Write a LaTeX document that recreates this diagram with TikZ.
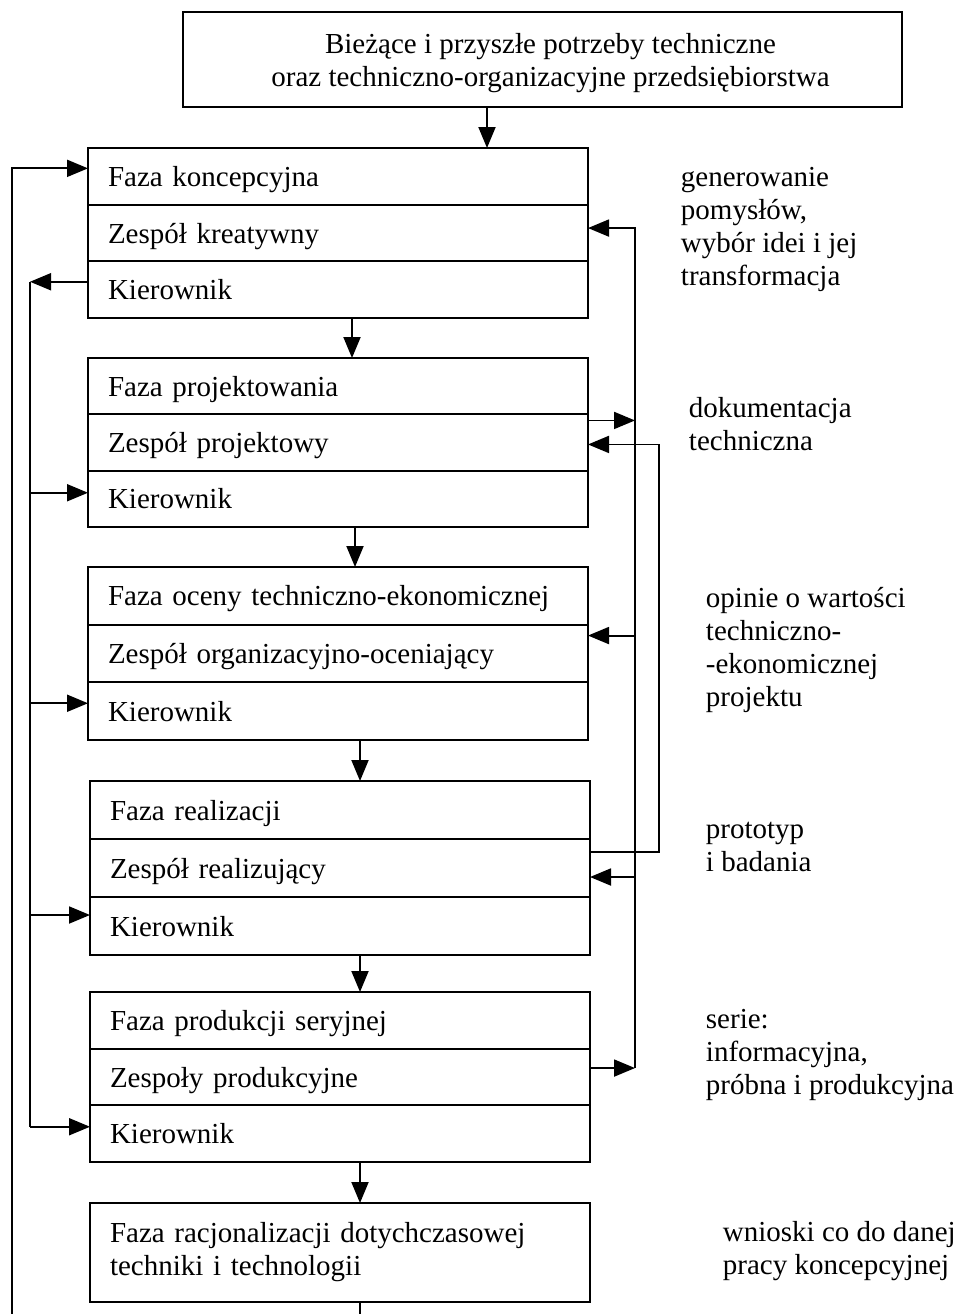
\documentclass[tikz,border=0pt]{standalone}
\usepackage{fontspec}
\setmainfont{Liberation Serif}
\usetikzlibrary{arrows.meta,calc}
\begin{document}
\begin{tikzpicture}[x=1pt,y=-1pt,line width=1.9pt,
  txt/.style={font=\fontsize{29}{33}\selectfont},
  box/.style={draw,anchor=north west,outer sep=0pt,text width=460pt,inner xsep=20pt,inner ysep=0pt,align=left,txt},
  row/.style={box,execute at begin node={\rule[-10pt]{0pt}{40pt}}},
  lbl/.style={anchor=west,inner sep=0pt,align=left,txt},
  arr/.style={-{Triangle[length=21pt,width=17pt]}}]
\useasboundingbox (0,0) rectangle (965,1314);
\clip (0,0) rectangle (965,1314);
\fill[white] (0,0) rectangle (965,1314);
% top box
\node[draw,outer sep=0pt,anchor=north west,minimum width=719pt,minimum height=95pt,align=center,txt] (top) at (183,12)
  {\rule[-8pt]{0pt}{36pt}\hspace*{16pt}Bieżące i przyszłe potrzeby techniczne\\\hspace*{16pt}oraz techniczno-organizacyjne przedsiębiorstwa};
% phase 1
\node[row,minimum height=56.7pt] (f1) at (88,148) {Faza koncepcyjna};
\node[row,minimum height=56.7pt] (z1) at (f1.south west) {Zespół kreatywny};
\node[row,minimum height=56.7pt] (k1) at (z1.south west) {Kierownik};
% phase 2
\node[row,minimum height=56.3pt] (f2) at (88,358) {Faza projektowania};
\node[row,minimum height=56.3pt] (z2) at (f2.south west) {Zespół projektowy};
\node[row,minimum height=56.3pt] (k2) at (z2.south west) {Kierownik};
% phase 3
\node[row,minimum height=57.7pt] (f3) at (88,567) {Faza oceny techniczno-ekonomicznej};
\node[row,minimum height=57.7pt] (z3) at (f3.south west) {Zespół organizacyjno-oceniający};
\node[row,minimum height=57.7pt] (k3) at (z3.south west) {Kierownik};
% phase 4
\node[row,minimum height=58pt] (f4) at (90,781) {Faza realizacji};
\node[row,minimum height=58pt] (z4) at (f4.south west) {Zespół realizujący};
\node[row,minimum height=58pt] (k4) at (z4.south west) {Kierownik};
% phase 5
\node[row,minimum height=56.7pt] (f5) at (90,992) {Faza produkcji seryjnej};
\node[row,minimum height=56.7pt] (z5) at (f5.south west) {Zespoły produkcyjne};
\node[row,minimum height=56.7pt] (k5) at (z5.south west) {Kierownik};
% phase 6
\node[box,minimum height=99pt] (f6) at (90,1203) {Faza racjonalizacji dotychczasowej\\techniki i technologii};
% right labels
\node[lbl] (l1) at (680,229) {generowanie\\pomysłów,\\wybór idei i jej\\transformacja};
\node[lbl] (l2) at (688,424) {dokumentacja\\techniczna};
\node[lbl] (l3) at (705,650) {opinie o wartości\\techniczno-\\-ekonomicznej\\projektu};
\node[lbl] (l4) at (705,847) {prototyp\\i badania};
\node[lbl] (l5) at (705,1055) {serie:\\informacyjna,\\próbna i produkcyjna};
\node[lbl] (l6) at (722,1251) {wnioski co do danej\\pracy koncepcyjnej};
% vertical flow arrows
\coordinate (a0) at (487,0);
\coordinate (a1) at (352,0);
\coordinate (a2) at (355,0);
\coordinate (a3) at (360,0);
\coordinate (bot) at (0,1340);
\draw[arr] (a0 |- top.south) -- (a0 |- f1.north);
\draw[arr] (a1 |- k1.south) -- (a1 |- f2.north);
\draw[arr] (a2 |- k2.south) -- (a2 |- f3.north);
\draw[arr] (a3 |- k3.south) -- (a3 |- f4.north);
\draw[arr] (a3 |- k4.south) -- (a3 |- f5.north);
\draw[arr] (a3 |- k5.south) -- (a3 |- f6.north);
% left side: feedback loop and manager line
\coordinate (L) at (12,0);
\coordinate (M) at (30,0);
\coordinate (f1in) at ([yshift=8pt]f1.west);
\draw[arr] (a3 |- f6.south) -- (a3 |- bot) -- (L |- bot) -- (L |- f1in) -- (f1in);
\coordinate (k1out) at ([yshift=8pt]k1.west);
\coordinate (k2in) at ([yshift=6pt]k2.west);
\coordinate (k3in) at ([yshift=8pt]k3.west);
\coordinate (k4in) at ([yshift=11pt]k4.west);
\coordinate (k5in) at ([yshift=7pt]k5.west);
\draw[arr] (k1out) -- (M |- k1out);
\draw (M |- k1out) -- (M |- k5in);
\draw[arr] (M |- k2in) -- (k2in);
\draw[arr] (M |- k3in) -- (k3in);
\draw[arr] (M |- k4in) -- (k4in);
\draw[arr] (M |- k5in) -- (k5in);
% right side bus A
\coordinate (A) at (635,0);
\coordinate (B) at (659,0);
\coordinate (z1in) at ([yshift=5pt]z1.east);
\coordinate (z2out) at ([yshift=22pt]z2.east);
\coordinate (z2in) at ([yshift=-2pt]z2.east);
\coordinate (z3in) at ([yshift=18pt]z3.east);
\coordinate (z4out) at ([yshift=16pt]z4.east);
\coordinate (z4in) at ([yshift=-9pt]z4.east);
\coordinate (z5out) at ([yshift=9pt]z5.east);
\draw[arr] (z5out) -- (A |- z5out);
\draw[arr] (A |- z5out) -- (A |- z1in) -- (z1in);
\draw[arr] (z2out) -- (A |- z2out);
\draw[arr] (A |- z3in) -- (z3in);
\draw[arr] (A |- z4in) -- (z4in);
% bus B
\draw[arr] (z4out) -- (B |- z4out) -- (B |- z2in) -- (z2in);
\end{tikzpicture}
\end{document}
